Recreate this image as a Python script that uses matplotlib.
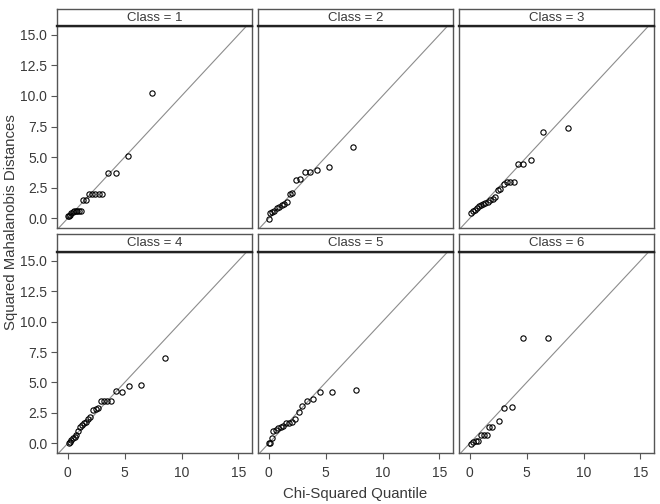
import matplotlib
matplotlib.use("Agg")
import matplotlib.pyplot as plt

classes = ["1", "2", "3", "4", "5", "6"]

x1 = [0.05, 0.12, 0.2, 0.3, 0.42, 0.55, 0.7, 0.85, 1.0, 1.15, 1.38, 1.62, 1.9, 2.15, 2.4, 2.7, 3.05, 3.56, 4.2, 5.26, 7.44]
y1 = [0.2, 0.22, 0.3, 0.42, 0.5, 0.58, 0.6, 0.6, 0.6, 0.62, 1.45, 1.48, 1.95, 1.97, 1.98, 2.0, 2.0, 3.7, 3.72, 5.1, 10.25]

x2 = [0.0, 0.12, 0.26, 0.47, 0.7, 0.91, 1.15, 1.38, 1.62, 1.88, 2.03, 2.41, 2.7, 3.15, 3.62, 4.24, 5.26, 7.44]
y2 = [-0.03, 0.41, 0.52, 0.63, 0.82, 0.95, 1.09, 1.17, 1.36, 1.96, 2.05, 3.1, 3.22, 3.74, 3.82, 3.98, 4.17, 5.84]

x3 = [0.12, 0.26, 0.44, 0.62, 0.8, 1.0, 1.15, 1.38, 1.59, 1.8, 2.03, 2.26, 2.47, 2.68, 2.97, 3.3, 3.5, 3.85, 4.24, 4.7, 5.38, 6.44, 8.65]
y3 = [0.44, 0.57, 0.71, 0.85, 0.98, 1.12, 1.2, 1.28, 1.34, 1.47, 1.61, 1.77, 2.29, 2.4, 2.78, 2.95, 2.95, 2.95, 4.42, 4.42, 4.75, 7.06, 7.34]

x4 = [0.09, 0.2, 0.32, 0.5, 0.62, 0.76, 0.94, 1.03, 1.24, 1.41, 1.62, 1.79, 1.97, 2.26, 2.47, 2.68, 2.88, 3.18, 3.47, 3.82, 4.2, 4.76, 5.41, 6.41, 8.59]
y4 = [0.0, 0.08, 0.27, 0.41, 0.49, 0.71, 1.04, 1.36, 1.5, 1.64, 1.77, 2.02, 2.18, 2.73, 2.81, 2.91, 3.46, 3.46, 3.46, 3.46, 4.28, 4.22, 4.71, 4.8, 6.98]

x5 = [0.0, 0.12, 0.26, 0.38, 0.59, 0.79, 1.03, 1.24, 1.47, 1.74, 2.03, 2.32, 2.62, 2.94, 3.38, 3.91, 4.53, 5.59, 7.7]
y5 = [0.0, 0.05, 0.46, 0.98, 1.09, 1.25, 1.31, 1.42, 1.69, 1.69, 1.77, 2.02, 2.56, 3.03, 3.49, 3.63, 4.22, 4.22, 4.36]

x6 = [0.12, 0.32, 0.53, 0.76, 0.97, 1.21, 1.5, 1.71, 1.91, 2.53, 3.0, 3.71, 4.71, 6.91]
y6 = [-0.03, 0.1, 0.19, 0.19, 0.65, 0.65, 0.65, 1.36, 1.36, 1.8, 2.86, 2.94, 8.67, 8.67]

xs = [x1, x2, x3, x4, x5, x6]
ys = [y1, y2, y3, y4, y5, y6]

x_ticks = [0, 5, 10, 15]
y_ticks = [0.0, 2.5, 5.0, 7.5, 10.0, 12.5, 15.0]
y_ticklabels = ["0.0", "2.5", "5.0", "7.5", "10.0", "12.5", "15.0"]

plt.rcParams['font.family'] = ['Liberation Sans', 'DejaVu Sans']

W, H = 660, 504
fig = plt.figure(figsize=(W / 100, H / 100), dpi=100)

col_left = [57, 258, 459]
col_w = 195
rows = [(26, 228, 9), (252, 453, 234)]  # (plot top, plot bottom, strip top)

xlim = (-0.95, 16.2)
ylim = (-0.8, 15.72)
border = "#555555"
txtcol = "#3a3a3a"

for i, cls in enumerate(classes):
    r, c = divmod(i, 3)
    top, bot, stop = rows[r]
    L = col_left[c]
    ax = fig.add_axes([L / W, 1 - bot / H, col_w / W, (bot - top) / H])
    ax.plot(xlim, xlim, color="#8c8c8c", lw=0.8, zorder=1)
    ax.plot(xs[i], ys[i], linestyle="none", marker="o", markersize=3.8,
            markerfacecolor="none", markeredgecolor="black", markeredgewidth=0.8, zorder=2)
    ax.set_xlim(*xlim)
    ax.set_ylim(*ylim)
    for s in ax.spines.values():
        s.set_color(border)
        s.set_linewidth(1.0)
    ax.set_xticks(x_ticks)
    ax.set_yticks(y_ticks)
    ax.set_yticklabels(y_ticklabels)
    ax.tick_params(direction="out", length=4.5, width=0.8, color=border,
                   labelsize=10, labelcolor=txtcol, pad=2.5)
    if r == 0:
        ax.tick_params(axis="x", bottom=False, labelbottom=False)
    else:
        ax.tick_params(axis="x", pad=5)
    if c != 0:
        ax.tick_params(axis="y", left=False, labelleft=False)

    # strip
    sax = fig.add_axes([L / W, 1 - top / H, col_w / W, (top - stop) / H])
    sax.set_xticks([])
    sax.set_yticks([])
    sax.set_facecolor("white")
    for s in sax.spines.values():
        s.set_color(border)
        s.set_linewidth(1.0)
    sax.spines["bottom"].set_color("#222222")
    sax.spines["bottom"].set_linewidth(1.7)
    sax.text(0.5, 0.48, "Class = " + cls, ha="center", va="center",
             fontsize=9.5, color=txtcol, transform=sax.transAxes)

fig.text(11 / W, 1 - 222 / H, "Squared Mahalanobis Distances", rotation=90,
         ha="center", va="center", fontsize=10.8, color=txtcol)
fig.text(355 / W, 1 - 494 / H, "Chi-Squared Quantile", ha="center", va="center",
         fontsize=10.8, color=txtcol)

fig.savefig("out.png", dpi=100)
